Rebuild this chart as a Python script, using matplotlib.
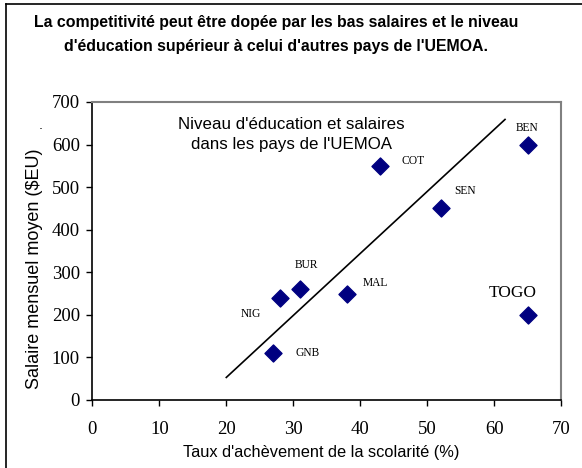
import matplotlib.pyplot as plt
from matplotlib.lines import Line2D

# data
countries = ["BEN", "COT", "SEN", "BUR", "NIG", "MAL", "GNB", "TOGO"]
completion = [65, 43, 52, 31, 28, 38, 27, 65]
salary = [600, 550, 450, 260, 240, 250, 110, 200]

# label anchors (data coordinates)
label_x = [64.9, 47.9, 55.6, 31.9, 23.7, 42.3, 32.2, 62.8]
label_y = [639, 561, 491, 317, 202, 275, 110, 252]

trend_x = [20, 61.6]
trend_y = [53, 659]

W, H = 582, 468
fig = plt.figure(figsize=(W / 100, H / 100), dpi=100)

ax = fig.add_axes([92.3 / W, 1 - 400 / H, 469 / W, 298 / H])
ax.plot(trend_x, trend_y, color="black", linewidth=1.2)
ax.scatter(completion, salary, marker="D", s=75, color="#000080", zorder=3)

for name, lx, ly in zip(countries, label_x, label_y):
    big = name == "TOGO"
    ax.text(lx, ly, name, ha="center", va="center",
            family="Liberation Serif", fontsize=12.5 if big else 8.3)

ax.text(29.7, 624, "Niveau d'éducation et salaires\ndans les pays de l'UEMOA",
        ha="center", va="center", family="Liberation Sans", fontsize=12.2,
        linespacing=1.4)

ax.set_xlim(0, 70)
ax.set_ylim(0, 700)
ax.set_xticks(range(0, 71, 10))
ax.set_yticks(range(0, 701, 100))
ax.tick_params(direction="out", length=4, width=1, color="black",
               labelsize=13.5, labelfontfamily="Liberation Serif")
ax.tick_params(axis="x", pad=11)
ax.tick_params(axis="y", pad=5)
for side in ("top", "right"):
    ax.spines[side].set_color("#808080")
    ax.spines[side].set_linewidth(1.5)
for side in ("left", "bottom"):
    ax.spines[side].set_linewidth(1.2)

fig.text(321 / W, 1 - 452 / H, "Taux d'achèvement de la scolarité (%)",
         family="Liberation Sans", fontsize=11.8, ha="center", va="center")
fig.text(35 / W, 1 - 269 / H, "Salaire mensuel moyen ($EU)",
         family="Liberation Sans", fontsize=13, ha="center", va="center",
         rotation=90)
fig.text(40.5 / W, 1 - 126 / H, ".", fontsize=9, ha="center", va="center")

fig.text(276 / W, 1 - 22 / H, "La competitivité peut être dopée par les bas salaires et le niveau",
         ha="center", va="center", family="Liberation Sans", fontsize=11.4,
         fontweight="bold")
fig.text(276 / W, 1 - 47 / H, "d'éducation supérieur à celui d'autres pays de l'UEMOA.",
         ha="center", va="center", family="Liberation Sans", fontsize=11.4,
         fontweight="bold")

# outer frame (left and top edges visible)
fig.add_artist(Line2D([5.5 / W, 5.5 / W], [0, 1 - 3.5 / H], color="black",
                      linewidth=1.2, transform=fig.transFigure))
fig.add_artist(Line2D([5.5 / W, 1], [1 - 3.5 / H, 1 - 3.5 / H], color="black",
                      linewidth=1.2, transform=fig.transFigure))

fig.savefig("out.png", dpi=100)
